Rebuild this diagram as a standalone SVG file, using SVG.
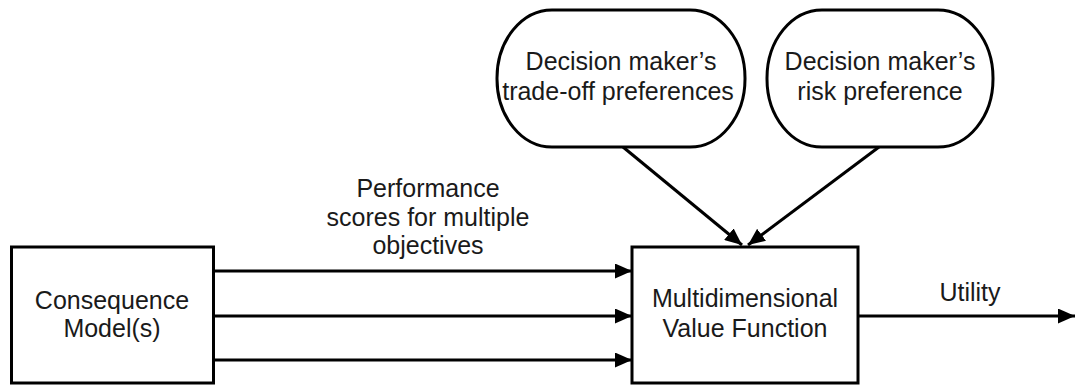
<svg xmlns="http://www.w3.org/2000/svg" width="1076" height="385" viewBox="0 0 1076 385">
<style>
.box{fill:#fff;stroke:#000;stroke-width:3}
.ln{fill:none;stroke:#000;stroke-width:3}
text{font-family:"Liberation Sans",Arial,sans-serif;font-size:25px;fill:#1a1a1a;text-anchor:middle}
</style>
<defs>
<marker id="ah" markerUnits="userSpaceOnUse" markerWidth="17" markerHeight="15" refX="17" refY="7.5" orient="auto">
<path d="M0,0 L17,7.5 L0,15 z" fill="#000"/>
</marker>
</defs>
<rect width="1076" height="385" fill="#fff"/>
<g id="connectors">
<line class="ln" x1="213" y1="271" x2="632" y2="271" marker-end="url(#ah)"/>
<line class="ln" x1="213" y1="316" x2="632" y2="316" marker-end="url(#ah)"/>
<line class="ln" x1="213" y1="360" x2="632" y2="360" marker-end="url(#ah)"/>
<line class="ln" x1="858" y1="316" x2="1075" y2="316" marker-end="url(#ah)"/>
<line class="ln" x1="623" y1="147" x2="742" y2="245" marker-end="url(#ah)"/>
<line class="ln" x1="879" y1="147" x2="748" y2="245" marker-end="url(#ah)"/>
<text x="428" y="197">Performance</text>
<text x="428" y="226">scores for multiple</text>
<text x="428" y="254">objectives</text>
<text x="970" y="301">Utility</text>
</g>
<g id="consequence">
<rect class="box" x="11.5" y="247" width="202" height="136"/>
<text x="112" y="309">Consequence</text>
<text x="112" y="337">Model(s)</text>
</g>
<g id="mvf">
<rect class="box" x="632" y="247" width="226" height="136"/>
<text x="745" y="307">Multidimensional</text>
<text x="745" y="337">Value Function</text>
</g>
<g id="tradeoff">
<rect class="box" x="497" y="10" width="248" height="137" rx="55" ry="68"/>
<text x="621" y="70">Decision maker’s</text>
<text x="618" y="100">trade-off preferences</text>
</g>
<g id="risk">
<rect class="box" x="767" y="10" width="226" height="137" rx="55" ry="68"/>
<text x="880" y="70">Decision maker’s</text>
<text x="880" y="100">risk preference</text>
</g>
</svg>
